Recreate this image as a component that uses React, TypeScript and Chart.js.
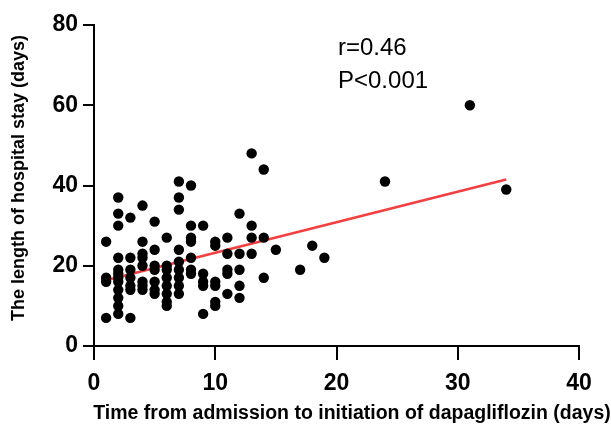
import React, { useEffect, useRef } from "react";
import { Chart, registerables } from "chart.js";

Chart.register(...registerables);

// Time from admission to initiation of dapagliflozin (days), one entry per patient
const dayValues = [
  1, 1, 1, 1,
  2, 2, 2, 2, 2, 2, 2, 2, 2, 2, 2, 2,
  3, 3, 3, 3, 3, 3, 3,
  4, 4, 4, 4, 4, 4, 4, 4,
  5, 5, 5, 5, 5, 5, 5,
  6, 6, 6, 6, 6, 6, 6, 6,
  7, 7, 7, 7, 7, 7, 7, 7, 7,
  8, 8, 8, 8, 8, 8, 8,
  9, 9, 9, 9, 9,
  10, 10, 10, 10, 10, 10,
  11, 11, 11, 11, 11,
  12, 12, 12, 12, 12,
  13, 13, 13, 13,
  14, 14, 14,
  15, 17, 18, 19, 24, 31, 34,
];

// Length of hospital stay (days), same order as dayValues
const stayValues = [
  26, 17, 16, 7,
  37, 33, 30, 22, 19, 18, 17, 16, 14, 12, 10, 8,
  32, 22, 19, 17, 15, 14, 7,
  35, 26, 23, 22, 20, 16, 15, 14,
  31, 24, 20, 19, 16, 14, 13,
  27, 20, 19, 17, 15, 13, 11, 10,
  41, 37, 34, 24, 21, 19, 17, 15, 13,
  40, 30, 27, 26, 22, 19, 18,
  30, 18, 16, 15, 8,
  26, 25, 16, 15, 11, 10,
  27, 23, 19, 18, 13,
  33, 23, 19, 15, 12,
  48, 30, 27, 23,
  44, 27, 17,
  24, 19, 25, 22, 41, 60, 39,
];

// Regression line end points
const fitDays = [1, 34];
const fitStay = [16.4, 41.5];

const xTicks = [0, 10, 20, 30, 40];
const yTicks = [0, 20, 40, 60, 80];

const statLines = ["r=0.46", "P<0.001"];
const xTitle = "Time from admission to initiation of dapagliflozin (days)";
const yTitle = "The length of hospital stay (days)";

const FONT = "'Liberation Sans', Arial, Helvetica, sans-serif";

export default function App() {
  const canvasRef = useRef<HTMLCanvasElement | null>(null);

  useEffect(() => {
    const canvas = canvasRef.current;
    if (!canvas) return;

    const textPlugin = {
      id: "textPlugin",
      afterDraw(chart: any) {
        const ctx = chart.ctx;
        ctx.save();
        ctx.fillStyle = "#000";
        // stats annotation
        ctx.font = `24px ${FONT}`;
        ctx.textAlign = "left";
        ctx.textBaseline = "alphabetic";
        ctx.fillText(statLines[0], 338, 55);
        ctx.fillText(statLines[1], 338, 88);
        // x title
        ctx.font = `bold 19.5px ${FONT}`;
        ctx.textAlign = "center";
        ctx.fillText(xTitle, 352, 419);
        // y title
        ctx.font = `bold 18px ${FONT}`;
        ctx.translate(19, 178);
        ctx.rotate(-Math.PI / 2);
        ctx.textBaseline = "middle";
        ctx.fillText(yTitle, 0, 0);
        ctx.restore();
      },
    };

    const scatterData = dayValues.map((d, i) => ({ x: d, y: stayValues[i] }));
    const fitData = fitDays.map((d, i) => ({ x: d, y: fitStay[i] }));

    const chart = new Chart(canvas, {
      type: "scatter",
      data: {
        datasets: [
          {
            type: "line",
            data: fitData,
            borderColor: "#f23f3f",
            borderWidth: 2.5,
            pointRadius: 0,
            showLine: true,
            fill: false,
            order: 2,
          } as any,
          {
            type: "scatter",
            data: scatterData,
            backgroundColor: "#000",
            borderWidth: 0,
            pointRadius: 5.2,
            order: 1,
          },
        ],
      },
      options: {
        responsive: false,
        animation: false,
        devicePixelRatio: 1,
        layout: { padding: { left: 0, top: 25, right: 32, bottom: 0 } },
        plugins: {
          legend: { display: false },
          tooltip: { enabled: false },
        },
        scales: {
          x: {
            type: "linear",
            min: 0,
            max: 40,
            afterFit: (scale: any) => {
              scale.height = 86;
            },
            afterBuildTicks: (scale: any) => {
              scale.ticks = xTicks.map((v) => ({ value: v }));
            },
            ticks: {
              color: "#000",
              font: { family: FONT, size: 23, weight: "bold" },
              padding: 10,
              maxRotation: 0,
            },
            grid: {
              display: true,
              drawOnChartArea: false,
              drawTicks: true,
              tickLength: 14,
              color: "#000",
              lineWidth: 2,
            },
            border: { display: true, color: "#000", width: 2 },
          },
          y: {
            type: "linear",
            min: 0,
            max: 80,
            afterFit: (scale: any) => {
              scale.width = 94;
            },
            afterBuildTicks: (scale: any) => {
              scale.ticks = yTicks.map((v) => ({ value: v }));
            },
            ticks: {
              color: "#000",
              font: { family: FONT, size: 23, weight: "bold" },
              padding: 5,
            },
            grid: {
              display: true,
              drawOnChartArea: false,
              drawTicks: true,
              tickLength: 11,
              color: "#000",
              lineWidth: 2,
            },
            border: { display: true, color: "#000", width: 2 },
          },
        },
      },
      plugins: [textPlugin],
    });

    return () => chart.destroy();
  }, []);

  return (
    <div style={{ position: "absolute", left: 0, top: 0, width: 611, height: 432, background: "#fff" }}>
      <canvas ref={canvasRef} width={611} height={432} style={{ display: "block" }} />
    </div>
  );
}
